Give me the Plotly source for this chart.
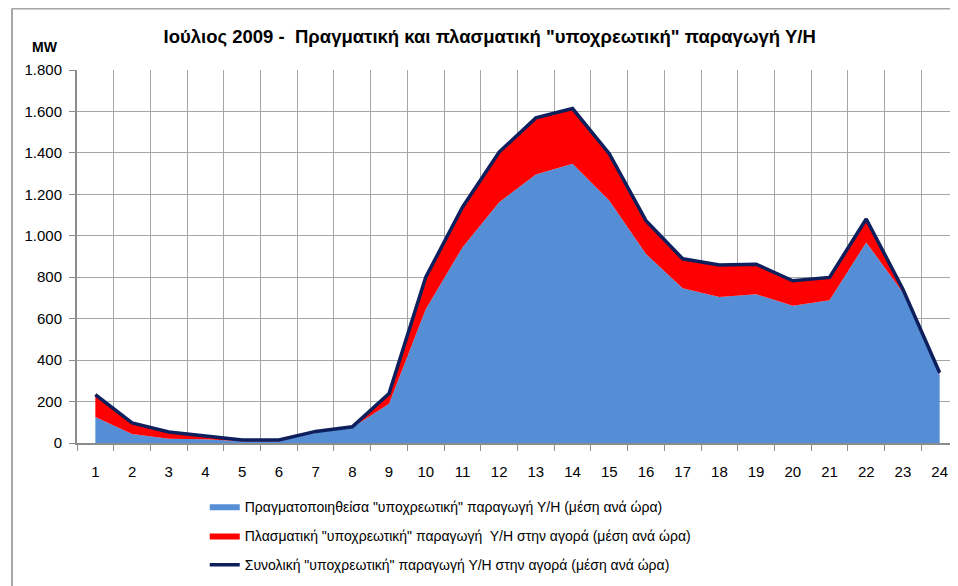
import plotly.graph_objects as go

hours = list(range(1, 25))
actual = [126, 44, 20, 18, 9, 9, 50, 75, 189, 646, 944, 1162, 1296, 1348, 1170, 912,
          747, 705, 718, 662, 689, 968, 726, 331]
total = [233, 97, 53, 33, 15, 15, 56, 78, 239, 800, 1138, 1404, 1569, 1614, 1396, 1073,
         889, 859, 863, 783, 799, 1081, 742, 339]
fictive = [t - a for t, a in zip(total, actual)]

names = [
    'Πραγματοποιηθείσα "υποχρεωτική" παραγωγή Υ/Η (μέση ανά ώρα)',
    'Πλασματική "υποχρεωτική" παραγωγή  Υ/Η στην αγορά (μέση ανά ώρα)',
    'Συνολική "υποχρεωτική" παραγωγή Υ/Η στην αγορά (μέση ανά ώρα)',
]
title = 'Ιούλιος 2009 -  Πραγματική και πλασματική "υποχρεωτική" παραγωγή Υ/Η'
yticks = list(range(0, 1801, 200))

FONT = "Liberation Sans, Arial, sans-serif"

fig = go.Figure()
fig.add_trace(go.Scatter(x=hours, y=actual, name=names[0], stackgroup="a",
                         mode="lines", line=dict(width=0, color="#558ED5"),
                         fillcolor="#558ED5", legendgroup="g1"))
fig.add_trace(go.Scatter(x=hours, y=fictive, name=names[1], stackgroup="a",
                         mode="lines", line=dict(width=0, color="#FF0000"),
                         fillcolor="#FF0000", legendgroup="g2"))
fig.add_trace(go.Scatter(x=hours, y=total, name=names[2], mode="lines",
                         line=dict(width=3.5, color="#0D1F5C"), legendgroup="g3"))

fig.update_layout(
    width=950, height=578,
    margin=dict(l=69, r=0, t=62, b=143),
    paper_bgcolor="white", plot_bgcolor="white",
    font=dict(family=FONT, size=14, color="black"),
    separators=",.",
    title=dict(text="<b>" + title + "</b>", x=0.507, xanchor="center", y=0.95,
               yanchor="middle", font=dict(size=18.5, family=FONT)),
    showlegend=True,
    legend=dict(x=0.145, y=-0.128, xanchor="left", yanchor="top",
                orientation="v", tracegroupgap=8, font=dict(size=14),
                bgcolor="rgba(0,0,0,0)"),
    annotations=[dict(text="<b>MW</b>", xref="paper", yref="paper",
                      x=-0.0363, y=1.0617, xanchor="center", yanchor="middle",
                      showarrow=False, font=dict(size=14))],
    shapes=[
        dict(type="line", xref="paper", yref="paper", x0=-0.0738, x1=-0.0738,
             y0=1.1649, y1=-1.0, line=dict(color="#A6A6A6", width=2)),
        dict(type="line", xref="paper", yref="paper", x0=-0.0738, x1=1.5,
             y0=1.1649, y1=1.1649, line=dict(color="#A6A6A6", width=2)),
    ],
)
fig.update_xaxes(
    range=[0.5, 24.5], tickmode="array", tickvals=hours,
    ticktext=[str(h) for h in hours], showgrid=False, ticks="",
    showline=True, linecolor="#8C8C8C", linewidth=2,
    tickfont=dict(size=15), zeroline=False, ticklabelstandoff=14,
    minor=dict(tick0=0.5, dtick=1, showgrid=True, gridcolor="#A6A6A6",
               gridwidth=1, ticks="outside", ticklen=6, tickcolor="#8C8C8C"),
)
fig.update_yaxes(
    range=[0, 1800], tickmode="array", tickvals=yticks,
    separatethousands=True, showgrid=True, gridcolor="#A6A6A6", gridwidth=1,
    ticks="outside", ticklen=6, tickcolor="#8C8C8C",
    showline=True, linecolor="#8C8C8C", linewidth=2, zeroline=False,
    tickfont=dict(size=15), ticklabelstandoff=4,
)

fig.write_html("out.html")
